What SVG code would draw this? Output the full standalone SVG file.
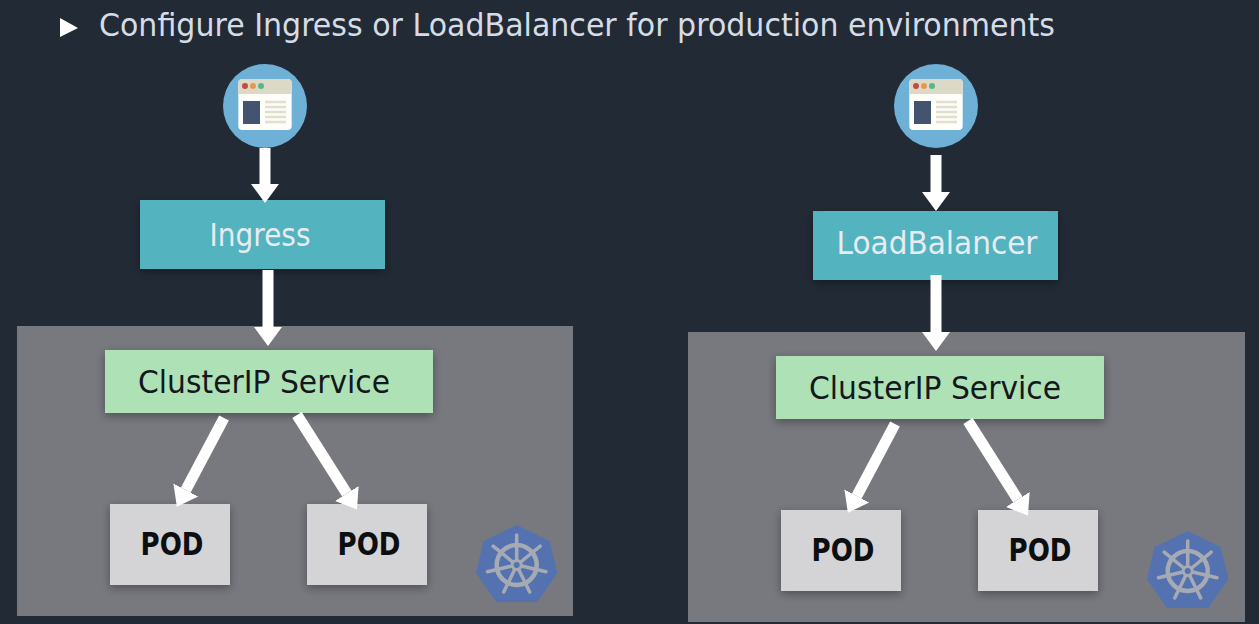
<svg xmlns="http://www.w3.org/2000/svg" width="1259" height="624" viewBox="0 0 1259 624">
<style>
text{font-family:"DejaVu Sans","Noto Sans",sans-serif}
.panel{fill:#77797f}
.lb{fill:#52b3bf;filter:url(#sh)}
.svc{fill:#aee2b6;filter:url(#sh)}
.pod{fill:#d4d4d6;filter:url(#sh)}
.t{font-size:32px;fill:#e6ecf2;text-anchor:middle}
.s{font-size:32px;fill:#14181c;text-anchor:middle}
.p{font-size:32px;font-weight:bold;fill:#0c0e10;text-anchor:middle}
.c{stroke:#fff;stroke-width:11;fill:none;marker-end:url(#ah)}
</style>
<defs>
<filter id="sh" x="-10%" y="-20%" width="120%" height="145%"><feDropShadow dx="0" dy="3" stdDeviation="5" flood-color="#000" flood-opacity=".35"/></filter>
<marker id="ah" markerUnits="userSpaceOnUse" markerWidth="30" markerHeight="30" refX="0" refY="15" orient="auto"><path d="M0 1L19 15L0 29Z" fill="#fff"/></marker>
<g id="web">
<circle r="42" fill="#6fb0d6"/>
<rect x="-26.700" y="-27" width="53.400" height="51" rx="4" fill="#fdfdfa"/>
<path d="M-26.700-12V-23a4 4 0 0 1 4-4H22.700a4 4 0 0 1 4 4V-12Z" fill="#dcd9c6"/>
<circle cx="-20" cy="-20" r="3" fill="#c44a44"/><circle cx="-12" cy="-20" r="3" fill="#e29a52"/><circle cx="-4" cy="-20" r="3" fill="#56b98e"/>
<rect x="-22" y="-5" width="17" height="23" fill="#435470"/>
<path d="M0-4H21M0 1H21M0 6H21M0 11H21M0 16H21" stroke="#e2e0cc" stroke-width="2.400"/>
</g>
<g id="k8s">
<path d="M0-40L33-24L40.700 8L20.700 37H-20.700L-40.700 8L-33-24Z" fill="#5572b0"/>
<g fill="none" stroke="#a6aab2" stroke-linecap="round">
<circle r="20" stroke-width="4.500"/>
<circle r="4.500" stroke-width="3"/>
<path stroke-width="3.500" d="M0-5V-30M4-3L23.500-18.800M5 1L29.300 6.700M2 4.500L13 27M-2 4.500L-13 27M-5 1L-29.300 6.700M-4-3L-23.500-18.800"/>
</g>
</g>
</defs>
<rect id="background" width="1259" height="624" fill="#222a35"/>
<g id="bullet">
<path d="M60 18L78 28L60 37Z" fill="#fff"/>
<text x="99" y="36" font-size="32" fill="#d5dce6" textLength="956" lengthAdjust="spacingAndGlyphs">Configure Ingress or LoadBalancer for production environments</text>
</g>
<rect id="cluster-left" class="panel" x="17" y="326" width="556" height="290"/>
<rect id="cluster-right" class="panel" x="688" y="332" width="557" height="290"/>
<use id="logo-left" href="#k8s" x="516.700" y="565"/>
<use id="logo-right" href="#k8s" x="1187.700" y="571"/>
<use id="client-left" href="#web" x="265" y="106"/>
<use id="client-right" href="#web" x="936" y="106"/>
<g id="ingress"><rect class="lb" x="140" y="200" width="245" height="69"/><text class="t" x="260" y="246" textLength="101" lengthAdjust="spacingAndGlyphs">Ingress</text></g>
<g id="loadbalancer"><rect class="lb" x="813" y="211" width="245" height="69"/><text class="t" x="937" y="254" textLength="201" lengthAdjust="spacingAndGlyphs">LoadBalancer</text></g>
<g id="service-left"><rect class="svc" x="105" y="350" width="328" height="63"/><text class="s" x="264" y="393" textLength="252" lengthAdjust="spacingAndGlyphs">ClusterIP Service</text></g>
<g id="service-right"><rect class="svc" x="776" y="356" width="328" height="63"/><text class="s" x="935" y="399" textLength="252" lengthAdjust="spacingAndGlyphs">ClusterIP Service</text></g>
<g id="pod-l1"><rect class="pod" x="110" y="504" width="120" height="81"/><text class="p" x="172" y="555" textLength="63" lengthAdjust="spacingAndGlyphs">POD</text></g>
<g id="pod-l2"><rect class="pod" x="307" y="504" width="120" height="81"/><text class="p" x="369" y="555" textLength="63" lengthAdjust="spacingAndGlyphs">POD</text></g>
<g id="pod-r1"><rect class="pod" x="781" y="510" width="120" height="81"/><text class="p" x="843" y="561" textLength="63" lengthAdjust="spacingAndGlyphs">POD</text></g>
<g id="pod-r2"><rect class="pod" x="978" y="510" width="120" height="81"/><text class="p" x="1040" y="561" textLength="63" lengthAdjust="spacingAndGlyphs">POD</text></g>
<g id="connectors">
<path class="c" d="M224 418L185.800 490"/>
<path class="c" d="M297 415L346.800 493.500"/>
<path class="c" d="M265 148V184"/>
<path class="c" d="M268 270V327"/>
<path class="c" d="M936 155V192"/>
<path class="c" d="M936 275V332"/>
<path class="c" d="M895 424L856.800 496"/>
<path class="c" d="M968 421L1017.800 499.500"/>
</g>
</svg>
